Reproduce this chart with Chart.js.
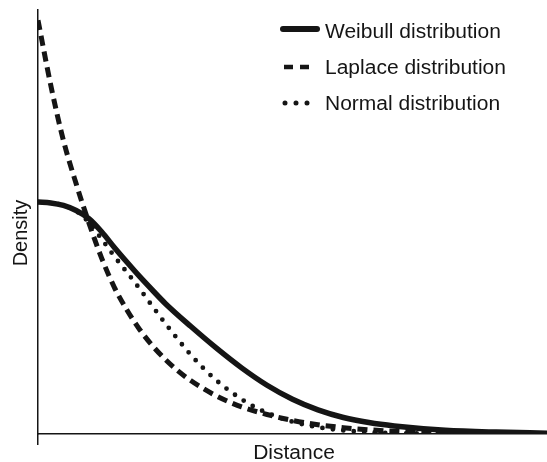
<!DOCTYPE html>
<html>
<head>
<meta charset="utf-8">
<script src="https://cdn.jsdelivr.net/npm/chart.js@4.4.1/dist/chart.umd.min.js"></script>
<style>
  html, body { margin: 0; padding: 0; background: #ffffff; }
  #wrap { width: 547px; height: 462px; }
</style>
</head>
<body>
<div id="wrap"><canvas id="c" width="547" height="462"></canvas></div>
<script>
// ---- Data (axis units are arbitrary, 0..100) ----
const seriesLabels = ['Weibull distribution', 'Laplace distribution', 'Normal distribution'];
const axisTitleX = 'Distance';
const axisTitleY = 'Density';

const weibullDist    = [0, 2.5, 5, 7.5, 10, 12.5, 15, 17.5, 20, 22.5, 25, 30, 35, 40, 45, 50, 55, 60, 65, 70, 80, 90, 100];
const weibullDensity = [54.7, 54.5, 53.9, 52.7, 50.8, 47.7, 44.0, 40.5, 37.1, 33.9, 30.8, 25.4, 20.3, 15.6, 11.5, 8.2, 5.7, 3.9, 2.7, 1.9, 0.9, 0.45, 0.2];

const laplaceDist    = [0, 2.5, 5, 7.5, 10, 12.5, 15, 17.5, 20, 22.5, 25, 27.5, 30, 32.5, 35, 37.5, 40, 45, 50, 55, 60, 65, 70, 80, 90, 100];
const laplaceDensity = [97.6, 82.3, 69.2, 59.0, 49.8, 41.5, 34.6, 29.2, 24.6, 20.8, 17.6, 14.9, 12.6, 10.7, 9.0, 7.6, 6.4, 4.6, 3.2, 2.2, 1.5, 1.0, 0.65, 0.3, 0.12, 0.05];

const normalDist    = [0, 2.5, 5, 7.5, 10, 12.5, 15, 17.5, 20, 22.5, 25, 27.5, 30, 32.5, 35, 37.5, 40, 42.5, 45, 50, 55, 60, 65, 70, 80, 100];
const normalDensity = [54.7, 54.5, 53.9, 52.6, 49.9, 46.0, 41.9, 38.1, 34.2, 30.1, 26.1, 22.3, 18.7, 15.5, 12.7, 10.3, 8.2, 6.4, 5.0, 2.9, 1.6, 0.85, 0.45, 0.22, 0.05, 0];

const toPoints = (xs, ys) => xs.map((x, i) => ({ x: x, y: ys[i] }));

const INK = '#151515';
const FONT = '"Liberation Sans", Arial, Helvetica, sans-serif';

// Custom legend + axis titles (drawn on the canvas after the chart)
const decorPlugin = {
  id: 'decor',
  afterDraw(chart) {
    const ctx = chart.ctx;
    ctx.save();
    ctx.fillStyle = INK;
    ctx.strokeStyle = INK;
    ctx.font = '20px ' + FONT;
    ctx.textBaseline = 'alphabetic';

    const drawText = (t, x, y, align) => {
      ctx.save();
      ctx.translate(x, y);
      ctx.scale(1.05, 1);
      ctx.textAlign = align || 'left';
      ctx.fillText(t, 0, 0);
      ctx.restore();
    };

    // legend samples
    const samples = [
      { x0: 283, x1: 317, y: 29, w: 6, dash: [], cap: 'round' },
      { x0: 284, x1: 310, y: 67, w: 4.5, dash: [9, 7], cap: 'butt' },
      { x0: 285, x1: 308, y: 103, w: 5, dash: [0, 11], cap: 'round' }
    ];
    const baselines = [38, 74, 110];
    chart.data.datasets.forEach((ds, i) => {
      const s = samples[i];
      ctx.save();
      ctx.lineWidth = s.w;
      ctx.lineCap = s.cap;
      ctx.setLineDash(s.dash);
      ctx.beginPath();
      ctx.moveTo(s.x0, s.y);
      ctx.lineTo(s.x1, s.y);
      ctx.stroke();
      ctx.restore();
      drawText(ds.label, 325, baselines[i], 'left');
    });

    // axis titles
    drawText(axisTitleX, 294, 459, 'center');
    ctx.save();
    ctx.translate(27, 233);
    ctx.rotate(-Math.PI / 2);
    ctx.textAlign = 'center';
    ctx.fillText(axisTitleY, 0, 0);
    ctx.restore();

    ctx.restore();
  }
};

new Chart(document.getElementById('c'), {
  type: 'line',
  data: {
    datasets: [
      {
        label: seriesLabels[0],
        data: toPoints(weibullDist, weibullDensity),
        borderColor: INK,
        borderWidth: 5.5,
        borderCapStyle: 'round',
        pointRadius: 0,
        cubicInterpolationMode: 'monotone',
        fill: false
      },
      {
        label: seriesLabels[1],
        data: toPoints(laplaceDist, laplaceDensity),
        borderColor: INK,
        borderWidth: 5,
        borderDash: [10, 6],
        borderCapStyle: 'butt',
        pointRadius: 0,
        cubicInterpolationMode: 'monotone',
        fill: false
      },
      {
        label: seriesLabels[2],
        data: toPoints(normalDist, normalDensity),
        borderColor: INK,
        borderWidth: 4.8,
        borderDash: [0, 10.5],
        borderCapStyle: 'round',
        pointRadius: 0,
        cubicInterpolationMode: 'monotone',
        fill: false
      }
    ]
  },
  options: {
    responsive: false,
    animation: false,
    devicePixelRatio: 1,
    layout: { padding: { top: 10, left: 38, right: 0, bottom: 17 } },
    plugins: {
      legend: { display: false },
      tooltip: { enabled: false }
    },
    scales: {
      x: {
        type: 'linear',
        min: 0,
        max: 100,
        ticks: { display: false },
        afterBuildTicks: (scale) => { scale.ticks = [{ value: 0 }]; },
        grid: { display: true, drawOnChartArea: false, drawTicks: true, tickLength: 11, color: INK, lineWidth: 1.5 },
        border: { display: true, color: INK, width: 1.5 }
      },
      y: {
        type: 'linear',
        min: 0,
        max: 100,
        ticks: { display: false },
        grid: { display: false, drawTicks: false },
        border: { display: true, color: INK, width: 1.5 }
      }
    }
  },
  plugins: [decorPlugin]
});
</script>
</body>
</html>
